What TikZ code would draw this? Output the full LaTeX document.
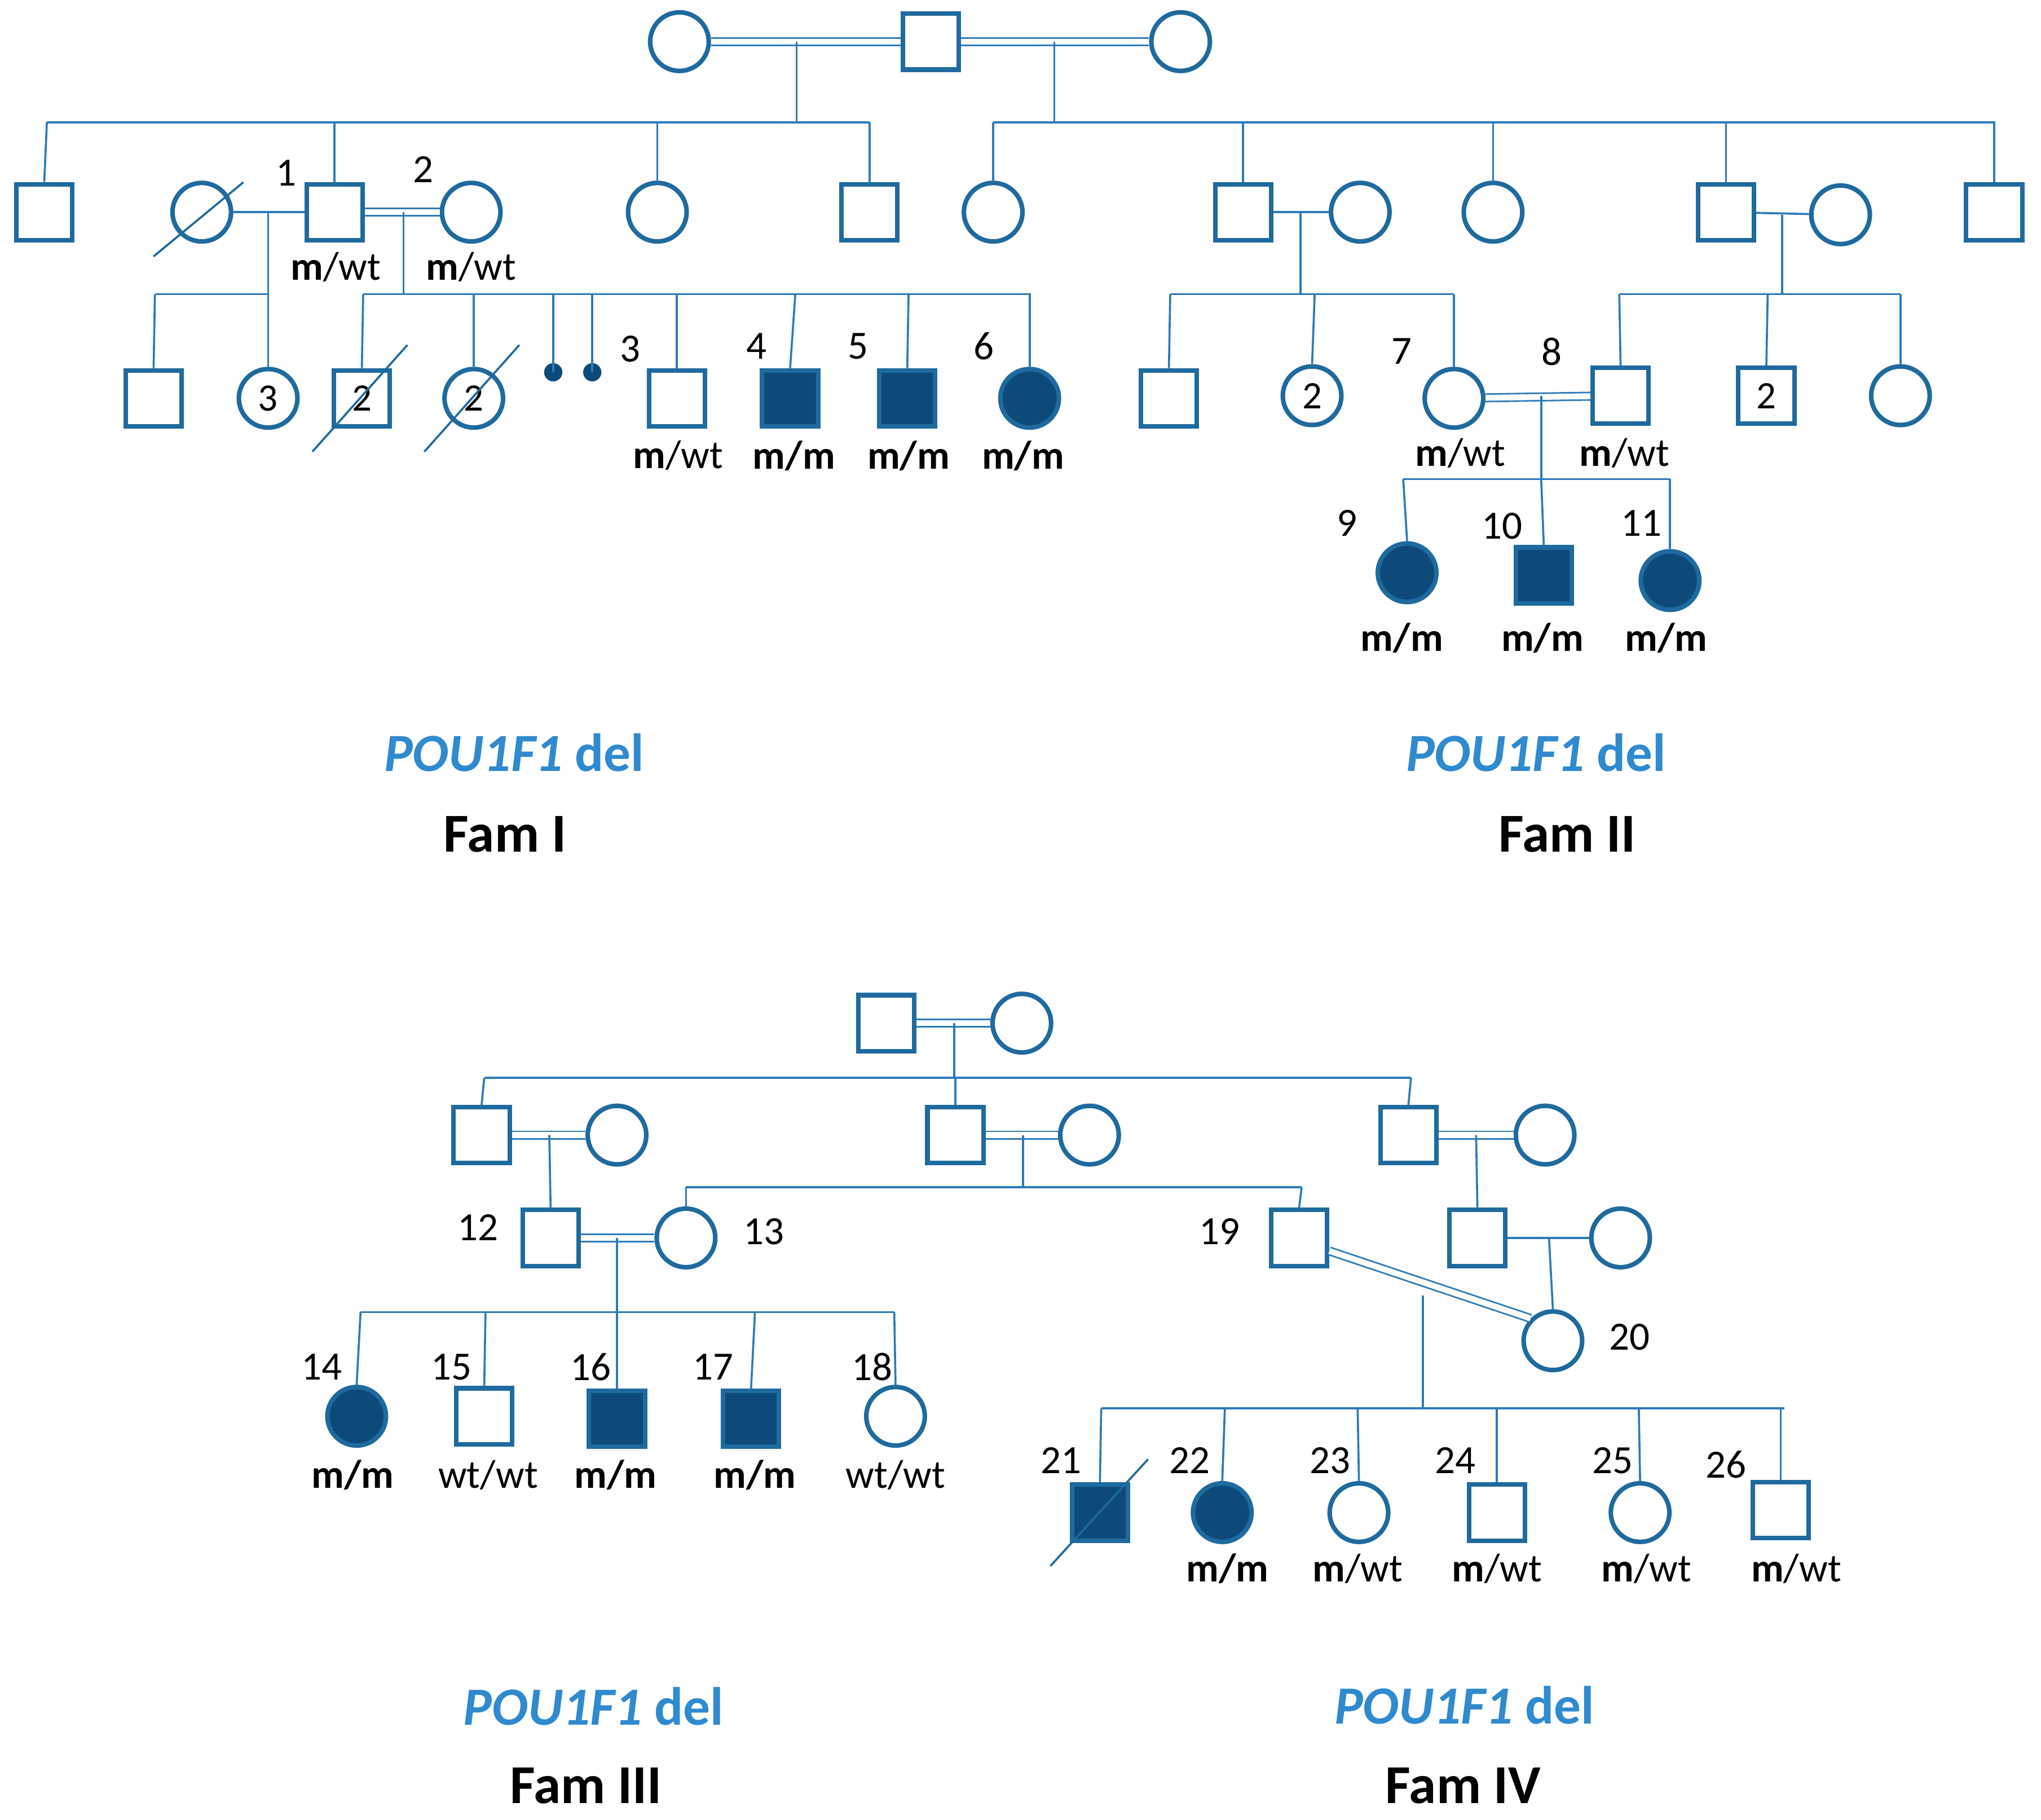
\documentclass[tikz,border=0pt]{standalone}
\usepackage{fontspec}
\setmainfont{Carlito}
\definecolor{sym}{HTML}{1F6A9E}
\definecolor{fillc}{HTML}{0D4A7A}
\definecolor{lc}{HTML}{2E7BB8}
\definecolor{tt}{HTML}{2F8ACF}
\begin{document}
\begin{tikzpicture}[x=0.02cm,y=-0.02cm,
 m/.style={draw=sym,line width=2pt,minimum size=0.86cm,inner sep=0pt,fill=white,font=\fontsize{17}{17}\selectfont},
 f/.style={draw=sym,line width=2pt,circle,minimum size=0.9cm,inner sep=0pt,fill=white,font=\fontsize{17}{17}\selectfont},
 aff/.style={fill=fillc},
 ln/.style={draw=lc,line width=0.9pt},
 dbl/.style={draw=lc,line width=0.7pt,double=white,double distance=0.09cm},
 lab/.style={font=\fontsize{17.5}{18}\selectfont},
 gb/.style={font=\bfseries\fontsize{17.5}{18}\selectfont},
 gn/.style={font=\fontsize{17.5}{18}\selectfont},
 ttl/.style={font=\bfseries\itshape\fontsize{23.5}{24}\selectfont,text=tt},
 fam/.style={font=\bfseries\fontsize{24}{24}\selectfont},
 sl/.style={draw=sym,line width=0.9pt}]
\useasboundingbox (0,0) rectangle (1568,1398);
% ---------- Fam I / II top generation
\node[f] (g1a) at (522,32) {};
\node[m] (g1b) at (715,32) {};
\node[f] (g1c) at (907,32) {};
\draw[dbl] (g1a) -- (g1b); \draw[dbl] (g1b) -- (g1c);
\draw[ln] (612,32) -- (612,94); \draw[ln] (810,32) -- (810,94);
\draw[ln] (36,94) -- (668,94); \draw[ln] (763,94) -- (1533,94);
\node[m] (a1) at (34,163) {};
\node[m] (p1) at (257,163) {};
\node[f] (a3) at (505,163) {};
\node[m] (a4) at (668,163) {};
\node[f] (b1) at (763,163) {};
\node[m] (b2) at (955,163) {};
\node[f] (b3) at (1147,163) {};
\node[m] (b4) at (1326,163) {};
\node[m] (b5) at (1532,163) {};
\foreach \n/\x in {a1/36,p1/257,a3/505,a4/668,b1/763,b2/955,b3/1147,b4/1326,b5/1532} \draw[ln] (\x,94) -- (\n.north);
% Fam I
\node[f] (w1) at (155,163) {};
\draw[sl] (118,197) -- (187,140);
\node[f] (p2) at (362,163) {};
\draw[ln] (w1) -- (p1); \draw[dbl] (p1) -- (p2);
\node[lab] at (220,133) {1}; \node[lab] at (325,130) {2};
\node[gb] at (258,205) {m\textmd{/wt}}; \node[gb] at (362,205) {m\textmd{/wt}};
\draw[ln] (119,226) -- (206,226);
\node[m] (c1) at (118,306) {};
\node[f] (c2) at (206,306) {3};
\draw[ln] (206,163) -- (c2.north); \draw[ln] (119,226) -- (c1.north);
\draw[ln] (310,163) -- (310,226); \draw[ln] (279,226) -- (792,226);
\node[m] (c3) at (278,306) {2}; \draw[sl] (240,347) -- (313,265);
\node[f] (c4) at (364,306) {2}; \draw[sl] (326,347) -- (399,265);
\fill[fillc] (425,286) circle (7); \fill[fillc] (455,286) circle (7);
\coordinate (d1) at (425,286); \coordinate (d2) at (455,286);
\node[m] (c5) at (520,306) {};
\node[m,aff] (c6) at (607,306) {};
\node[m,aff] (c7) at (697,306) {};
\node[f,aff] (c8) at (791,306) {};
\foreach \n/\x in {c3/279,c4/364,c5/520,c6/611,c7/698,c8/791} \draw[ln] (\x,226) -- (\n.north);
\draw[ln] (425,226) -- (d1); \draw[ln] (455,226) -- (d2);
\node[lab] at (484,268) {3}; \node[lab] at (581,266) {4}; \node[lab] at (659,266) {5}; \node[lab] at (756,266) {6};
\node[gb] at (521,350) {m\textmd{/wt}};
\node[gb] at (610,350) {m/m}; \node[gb] at (698,350) {m/m}; \node[gb] at (786,350) {m/m};
% Fam II
\node[f] (b2w) at (1045,163) {};
\draw[ln] (b2) -- (b2w);
\draw[ln] (999,163) -- (999,226); \draw[ln] (899,226) -- (1117,226);
\node[m] (e1) at (898,306) {};
\node[f] (e2) at (1008,304) {2};
\node[f] (p7) at (1117,306) {};
\foreach \n/\x in {e1/899,e2/1010,p7/1117} \draw[ln] (\x,226) -- (\n.north);
\node[f] (b4w) at (1414,165) {};
\draw[ln] (b4) -- (b4w);
\draw[ln] (1369,165) -- (1369,226); \draw[ln] (1244,226) -- (1460,226);
\node[m] (p8) at (1245,304) {};
\node[m] (e4) at (1357,304) {2};
\node[f] (e5) at (1460,304) {};
\foreach \n/\x in {p8/1244,e4/1358,e5/1460} \draw[ln] (\x,226) -- (\n.north);
\draw[dbl] (p7) -- (p8);
\draw[ln] (1184,304) -- (1184,368); \draw[ln] (1078,368) -- (1283,368);
\node[f,aff] (p9) at (1081,440) {};
\node[m,aff] (p10) at (1186,442) {};
\node[f,aff] (p11) at (1283,446) {};
\foreach \n/\x in {p9/1078,p10/1184,p11/1283} \draw[ln] (\x,368) -- (\n.north);
\node[lab] at (1077,270) {7}; \node[lab] at (1192,270) {8};
\node[lab] at (1035,402) {9}; \node[lab] at (1154,404) {10}; \node[lab] at (1261,402) {11};
\node[gb] at (1122,348) {m\textmd{/wt}}; \node[gb] at (1248,348) {m\textmd{/wt}};
\node[gb] at (1077,490) {m/m}; \node[gb] at (1185,490) {m/m}; \node[gb] at (1280,490) {m/m};
\node[ttl] at (395,578) {POU1F1\textup{ del}}; \node[fam] at (388,641) {Fam I};
\node[ttl] at (1180,578) {POU1F1\textup{ del}}; \node[fam] at (1204,641) {Fam II};
% ---------- Fam III / IV
\node[m] (h1) at (681,786) {}; \node[f] (h2) at (785,786) {};
\draw[dbl] (h1) -- (h2);
\draw[ln] (733,786) -- (733,828); \draw[ln] (372,828) -- (1084,828);
\node[m] (k1) at (370,872) {}; \node[f] (k1w) at (474,872) {};
\node[m] (k2) at (734,872) {}; \node[f] (k2w) at (837,872) {};
\node[m] (k3) at (1082,872) {}; \node[f] (k3w) at (1187,872) {};
\foreach \n/\x in {k1/372,k2/734,k3/1084} \draw[ln] (\x,828) -- (\n.north);
\draw[dbl] (k1) -- (k1w); \draw[dbl] (k2) -- (k2w); \draw[dbl] (k3) -- (k3w);
\node[m] (p12) at (423,951) {};
\draw[ln] (422,872) -- (p12.north);
\draw[ln] (786,872) -- (786,912); \draw[ln] (527,912) -- (1000,912);
\node[f] (p13) at (527,951) {};
\node[m] (p19) at (998,951) {};
\draw[ln] (527,912) -- (p13.north); \draw[ln] (1000,912) -- (p19.north);
\node[m] (q1) at (1135,951) {}; \node[f] (q2) at (1245,951) {};
\draw[ln] (1134,872) -- (q1.north);
\draw[ln] (q1) -- (q2);
\node[f] (p20) at (1193,1030) {};
\draw[ln] (1190,951) -- (p20.north);
\draw[dbl] (p12) -- (p13);
\draw[ln] (474,951) -- (474,1008); \draw[ln] (277,1008) -- (687,1008);
\node[f,aff] (p14) at (274,1088) {};
\node[m] (p15) at (372,1088) {};
\node[m,aff] (p16) at (474,1090) {};
\node[m,aff] (p17) at (577,1090) {};
\node[f] (p18) at (688,1088) {};
\foreach \n/\x in {p14/277,p15/373,p16/474,p17/580,p18/687} \draw[ln] (\x,1008) -- (\n.north);
\node[lab] at (367,943) {12}; \node[lab] at (587,946) {13};
\node[lab] at (247,1050) {14}; \node[lab] at (347,1050) {15}; \node[lab] at (454,1050) {16}; \node[lab] at (548,1050) {17}; \node[lab] at (670,1050) {18};
\node[gb] at (271,1133) {m/m}; \node[gn] at (375,1133) {wt/wt}; \node[gb] at (473,1133) {m/m}; \node[gb] at (580,1133) {m/m}; \node[gn] at (688,1133) {wt/wt};
\draw[dbl] (p19.east) ++(0,10) -- (p20.north west);
\draw[ln] (1093,995) -- (1093,1082); \draw[ln] (846,1082) -- (1371,1082);
\node[m,aff] (p21) at (845,1162) {}; \draw[sl] (807,1203) -- (882,1121);
\node[f,aff] (p22) at (939,1162) {};
\node[f] (p23) at (1044,1162) {};
\node[m] (p24) at (1150,1162) {};
\node[f] (p25) at (1260,1162) {};
\node[m] (p26) at (1368,1160) {};
\foreach \n/\x in {p21/846,p22/941,p23/1043,p24/1150,p25/1259,p26/1368} \draw[ln] (\x,1082) -- (\n.north);
\node[lab] at (937,946) {19}; \node[lab] at (1252,1027) {20};
\node[lab] at (815,1122) {21}; \node[lab] at (914,1122) {22}; \node[lab] at (1022,1122) {23}; \node[lab] at (1118,1122) {24}; \node[lab] at (1239,1122) {25}; \node[lab] at (1326,1125) {26};
\node[gb] at (943,1205) {m/m};
\node[gb] at (1043,1205) {m\textmd{/wt}}; \node[gb] at (1150,1205) {m\textmd{/wt}}; \node[gb] at (1265,1205) {m\textmd{/wt}}; \node[gb] at (1380,1205) {m\textmd{/wt}};
\node[ttl] at (456,1311) {POU1F1\textup{ del}}; \node[fam] at (450,1372) {Fam III};
\node[ttl] at (1125,1310) {POU1F1\textup{ del}}; \node[fam] at (1124,1372) {Fam IV};
\end{tikzpicture}
\end{document}
